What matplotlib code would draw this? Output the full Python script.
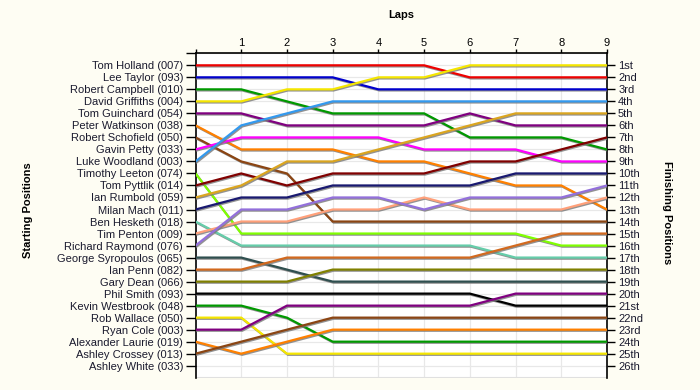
import matplotlib
matplotlib.use('Agg')
import matplotlib.pyplot as plt
import matplotlib.patheffects as pe

plt.rcParams['font.family'] = ['Liberation Sans', 'DejaVu Sans']

# drivers in starting order
drivers = ['Tom Holland (007)', 'Lee Taylor (093)', 'Robert Campbell (010)', 'David Griffiths (004)',
           'Tom Guinchard (054)', 'Peter Watkinson (038)', 'Robert Schofield (050)', 'Gavin Petty (033)',
           'Luke Woodland (003)', 'Timothy Leeton (074)', 'Tom Pyttlik (014)', 'Ian Rumbold (059)',
           'Milan Mach (011)', 'Ben Hesketh (018)', 'Tim Penton (009)', 'Richard Raymond (076)',
           'George Syropoulos (065)', 'Ian Penn (082)', 'Gary Dean (066)', 'Phil Smith (093)',
           'Kevin Westbrook (048)', 'Rob Wallace (050)', 'Ryan Cole (003)', 'Alexander Laurie (019)',
           'Ashley Crossey (013)', 'Ashley White (033)']

laps = [0, 1, 2, 3, 4, 5, 6, 7, 8, 9]

# position of each driver at the start and after every lap
holland    = [1, 1, 1, 1, 1, 1, 2, 2, 2, 2]
taylor     = [2, 2, 2, 2, 3, 3, 3, 3, 3, 3]
campbell   = [3, 3, 4, 5, 5, 5, 7, 7, 7, 8]
griffiths  = [4, 4, 3, 3, 2, 2, 1, 1, 1, 1]
guinchard  = [5, 5, 6, 6, 6, 6, 5, 6, 6, 6]
watkinson  = [6, 8, 8, 8, 9, 9, 10, 11, 11, 13]
schofield  = [7, 9, 10, 14, 14, 14, 14, 14, 14, 14]
petty      = [8, 7, 7, 7, 7, 8, 8, 8, 9, 9]
woodland   = [9, 6, 5, 4, 4, 4, 4, 4, 4, 4]
leeton     = [10, 15, 15, 15, 15, 15, 15, 15, 16, 16]
pyttlik    = [11, 10, 11, 10, 10, 10, 9, 9, 8, 7]
rumbold    = [12, 11, 9, 9, 8, 7, 6, 5, 5, 5]
mach       = [13, 12, 12, 11, 11, 11, 11, 10, 10, 10]
hesketh    = [14, 16, 16, 16, 16, 16, 16, 17, 17, 17]
penton     = [15, 14, 14, 13, 13, 12, 13, 13, 13, 12]
raymond    = [16, 13, 13, 12, 12, 13, 12, 12, 12, 11]
syropoulos = [17, 17, 18, 19, 19, 19, 19, 19, 19, 19]
penn       = [18, 18, 17, 17, 17, 17, 17, 16, 15, 15]
dean       = [19, 19, 19, 18, 18, 18, 18, 18, 18, 18]
smith      = [20, 20, 20, 20, 20, 20, 20, 21, 21, 21]
westbrook  = [21, 21, 22, 24, 24, 24, 24, 24, 24, 24]
wallace    = [22, 22, 25, 25, 25, 25, 25, 25, 25, 25]
cole       = [23, 23, 21, 21, 21, 21, 21, 20, 20, 20]
laurie     = [24, 25, 24, 23, 23, 23, 23, 23, 23, 23]
crossey    = [25, 24, 23, 22, 22, 22, 22, 22, 22, 22]

series = [holland, taylor, campbell, griffiths, guinchard, watkinson, schofield, petty,
          woodland, leeton, pyttlik, rumbold, mach, hesketh, penton, raymond,
          syropoulos, penn, dean, smith, westbrook, wallace, cole, laurie, crossey]
colors = ['#EE0000', '#0000CC', '#009900', '#F5E600', '#800080', '#FF8000', '#8B4513', '#FF00FF',
          '#3399EE', '#80FF00', '#800000', '#DAA520', '#191970', '#66CDAA', '#FFA07A', '#9370DB',
          '#2F4F4F', '#D2691E', '#808000', '#000000', '#009900', '#F5E600', '#800080', '#FF8000',
          '#8B4513']

finish = ['1st', '2nd', '3rd'] + ['%dth' % i for i in range(4, 21)] + ['21st', '22nd', '23rd', '24th', '25th', '26th']

bg = '#FEFDF3'
fig = plt.figure(figsize=(7, 3.9), dpi=100, facecolor=bg)
ax = fig.add_axes([0.2793, 0.0315, 0.5878, 0.8318])
ax.set_facecolor('white')

shadow = [pe.SimpleLineShadow(offset=(0.7, -0.8), shadow_color='#777777', alpha=0.8), pe.Normal()]
for pos, c in zip(series, colors):
    ax.plot(laps, pos, color=c, lw=1.6, solid_joinstyle='miter', path_effects=shadow, zorder=3)

ax.set_xlim(0, 9)
ax.set_ylim(27, 0)

# light grid: one row per position, one column per lap
ax.grid(True, axis='y', color='#E8E8E8', lw=0.9, zorder=0)
for l in laps[1:-1]:
    ax.axvline(l, color='#E8E8E8', lw=0.9, zorder=0)
ax.axhline(27, color='#E0E0E0', lw=1.5, zorder=0)

ax.set_yticks(range(0, 27))
ax.set_yticklabels([''] + drivers, fontsize=8, color='#1a1a2e')
ax.tick_params(axis='y', length=7, width=1, pad=2)

for s in ['top', 'left', 'right']:
    ax.spines[s].set_color('black')
    ax.spines[s].set_linewidth(1.2)
ax.spines['bottom'].set_visible(False)

ax2 = ax.twinx()
ax2.set_ylim(27, 0)
ax2.set_yticks(range(1, 27))
ax2.set_yticklabels(finish, fontsize=8, color='#1a1a2e')
ax2.tick_params(axis='y', length=6, width=1, pad=2)
ax2.xaxis.set_visible(False)
for s in ['top', 'left', 'right', 'bottom']:
    ax2.spines[s].set_visible(False)

# laps on top only
ax.set_xticks(laps)
ax.set_xticklabels([''] + [str(l) for l in laps[1:]], fontsize=8)
ax.xaxis.set_ticks_position('top')
ax.xaxis.set_label_position('top')
ax.tick_params(axis='x', which='both', length=3, width=1, pad=1, bottom=False, labelbottom=False)
ax.set_xlabel('Laps', fontsize=8, fontweight='bold', labelpad=14)

fig.text(0.04, 0.46, 'Starting Positions', rotation=90, fontsize=8, fontweight='bold', ha='center', va='center')
fig.text(0.953, 0.455, 'Finishing Positions', rotation=270, fontsize=8, fontweight='bold', ha='center', va='center')

fig.savefig('out.png', facecolor=bg)
